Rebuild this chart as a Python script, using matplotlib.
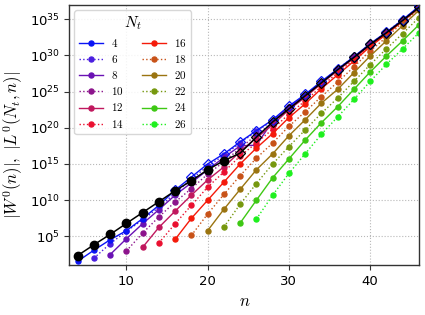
import numpy as np
import matplotlib
matplotlib.use('Agg')
import matplotlib.pyplot as plt
from matplotlib.font_manager import FontProperties
from matplotlib.lines import Line2D
from matplotlib.ticker import FixedLocator, NullLocator

# even n values
n_vals = [4, 6, 8, 10, 12, 14, 16, 18, 20, 22, 24, 26, 28, 30, 32, 34, 36, 38, 40, 42, 44, 46]

# log10 |W^0(n)|  (n = 4..46)
W0_exp = [2.36, 3.85, 5.28, 6.8, 8.3, 9.8, 11.3, 12.7, 14.2, 15.46, 16.5, 18.7,
          20.8, 22.6, 24.4, 26.2, 28.0, 29.7, 31.5, 33.1, 34.8, 36.6]

# log10 |L^0(N_t, n)| for n = N_t .. 46
L04 = [1.57, 3.1, 4.54, 5.8, 7.46, 9.3, 11.4, 13.2, 15.0, 16.4, 18.05, 19.6, 21.1,
       23.0, 24.6, 26.4, 28.1, 29.8, 31.6, 33.2, 34.9, 36.75]
L06 = [2.0, 4.0, 5.7, 7.3, 9.0, 11.0, 12.9, 14.7, 16.2, 17.9, 19.5, 21.0, 22.9,
       24.5, 26.3, 28.1, 29.8, 31.5, 33.2, 34.9, 36.7]
L08 = [2.5, 4.68, 6.76, 8.7, 10.7, 12.4, 14.2, 15.9, 17.5, 17.6, 20.9, 22.8, 24.5,
       26.3, 28.0, 29.7, 31.5, 33.1, 34.8, 36.6]
L10 = [3.0, 5.46, 7.7, 9.76, 11.6, 13.6, 15.3, 17.2, 19.0, 20.7, 22.7, 24.4, 26.2,
       28.0, 29.7, 31.5, 33.1, 34.8, 36.6]
L12 = [3.5, 6.25, 8.5, 10.7, 12.8, 14.6, 16.7, 18.6, 20.4, 22.5, 24.2, 26.1, 27.9,
       29.6, 31.4, 33.0, 34.7, 36.5]
L14 = [4.1, 6.76, 9.3, 11.8, 13.9, 16.1, 17.9, 19.8, 21.9, 23.7, 25.7, 27.6, 29.4,
       31.3, 32.9, 34.7, 36.5]
L16 = [4.6, 7.5, 10.0, 12.5, 15.0, 17.2, 19.2, 21.4, 23.3, 25.4, 27.3, 29.2, 31.2,
       32.9, 34.7, 36.6]
L18 = [5.14, 8.1, 10.8, 13.4, 15.8, 17.9, 20.2, 22.2, 24.3, 26.3, 28.4, 30.6, 32.5,
       34.5, 36.4]
L20 = [5.8, 8.75, 11.5, 14.2, 16.4, 18.9, 21.1, 23.4, 25.3, 27.6, 29.9, 32.0, 34.1, 36.2]
L22 = [6.3, 9.45, 12.3, 15.0, 17.4, 19.7, 22.0, 24.1, 26.4, 28.7, 30.9, 33.0, 35.2]
L24 = [6.85, 10.0, 13.1, 15.7, 18.3, 20.7, 22.9, 25.3, 27.7, 29.9, 32.0, 34.2]
L26 = [7.4, 10.7, 13.7, 16.4, 19.1, 21.5, 23.9, 26.4, 28.75, 30.9, 33.1]

Nt_vals = [4, 6, 8, 10, 12, 14, 16, 18, 20, 22, 24, 26]
L_all = [L04, L06, L08, L10, L12, L14, L16, L18, L20, L22, L24, L26]
colors = ['#0a14f5', '#4a1ee0', '#6a12b4', '#8c148c', '#c0185e', '#ea1030',
          '#f41a0a', '#c85218', '#9a7410', '#76980e', '#3ec814', '#1ef01e']
styles = ['-', ':', '-', ':', '-', ':', '-', ':', '-', ':', '-', ':']

fig = plt.figure(figsize=(4.25, 3.15), dpi=100)
ax = fig.add_axes([0.1635, 0.1587, 0.8235, 0.8245])

cm_small = FontProperties(size=8, math_fontfamily='cm')
cm_title = FontProperties(size=11, math_fontfamily='cm')

handles = []
for Nt, L, c, ls in zip(Nt_vals, L_all, colors, styles):
    n = np.array(n_vals[n_vals.index(Nt):])
    v = 10.0 ** np.array(L)
    if Nt == 4:
        k = n_vals.index(16)
        ax.plot(n, v, ls=ls, color=c, lw=1.0, zorder=3)
        ax.plot(n[:k], v[:k], ls='none', marker='o', color=c, ms=3.6, zorder=3)
        ax.plot(n[k:], v[k:], ls='none', marker='D', mfc='none', mec=c, mew=0.9,
                ms=4.6, zorder=3)
    else:
        ax.plot(n, v, ls=ls, color=c, lw=1.0, marker='o', ms=3.6, zorder=2)
    handles.append(Line2D([], [], ls=ls, color=c, lw=1.0, marker='o', ms=3.6))

# black W^0(n)
nW = np.array(n_vals)
vW = 10.0 ** np.array(W0_exp)
kW = n_vals.index(24)
ax.plot(nW, vW, '-', color='black', lw=1.1, zorder=5)
ax.plot(nW[:kW], vW[:kW], ls='none', marker='o', color='black', ms=6, zorder=5)
ax.plot(nW[kW:], vW[kW:], ls='none', marker='D', mfc='none', mec='black', mew=0.9,
        ms=4.6, zorder=5)

ax.set_yscale('log')
ax.set_xlim(3, 46.07)
ax.set_ylim(10 ** 1.06, 10 ** 36.9)
ax.yaxis.set_major_locator(FixedLocator([1e5, 1e10, 1e15, 1e20, 1e25, 1e30, 1e35]))
ax.yaxis.set_minor_locator(NullLocator())
ax.set_xticks([10, 20, 30, 40])
ax.tick_params(labelsize=9.5, length=3.5, width=0.8, color='#333333')
ax.grid(True, ls=':', color='#b8b8b8', lw=0.8)
ax.set_axisbelow(True)
for s in ax.spines.values():
    s.set_color('#333333')
    s.set_linewidth(1.0)

ax.set_xlabel(r'$n$', fontsize=12, math_fontfamily='cm')
ax.xaxis.set_label_coords(0.5, -0.105)
ax.set_ylabel(r'$|W^0(n)|,\ |L^0(N_t,n)|$', fontsize=12, math_fontfamily='cm')
ax.yaxis.set_label_coords(-0.128, 0.46)

labels = ['$%d$' % Nt for Nt in Nt_vals]
leg = ax.legend(handles, labels, ncol=2, loc='upper left', title=r'$N_t$',
                prop=cm_small, title_fontproperties=cm_title,
                handlelength=2.2, labelspacing=0.38, columnspacing=1.6,
                borderaxespad=0.45, handletextpad=0.7, framealpha=0.85,
                edgecolor='#d0d0d0', fancybox=True)

fig.savefig('out.png', dpi=100)
